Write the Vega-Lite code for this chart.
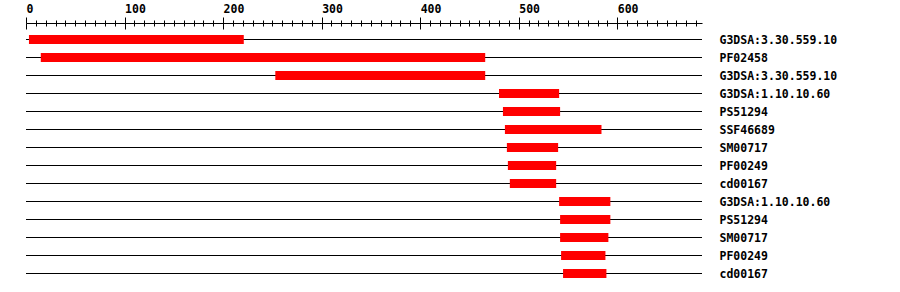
{
  "$schema": "https://vega.github.io/schema/vega-lite/v6.json",
  "autosize": "none",
  "width": 676,
  "height": 252,
  "padding": {"left": 26, "top": 30, "right": 198, "bottom": 10},
  "background": "white",
  "config": {"view": {"stroke": null}},
  "data": {"values": [
    {"key": "01|G3DSA:3.30.559.10", "start": 3, "end": 221},
    {"key": "02|PF02458", "start": 15, "end": 466},
    {"key": "03|G3DSA:3.30.559.10", "start": 253, "end": 466},
    {"key": "04|G3DSA:1.10.10.60", "start": 480, "end": 541},
    {"key": "05|PS51294", "start": 484, "end": 542},
    {"key": "06|SSF46689", "start": 486, "end": 584},
    {"key": "07|SM00717", "start": 488, "end": 540},
    {"key": "08|PF00249", "start": 489, "end": 538},
    {"key": "09|cd00167", "start": 491, "end": 538},
    {"key": "10|G3DSA:1.10.10.60", "start": 541, "end": 593},
    {"key": "11|PS51294", "start": 542, "end": 593},
    {"key": "12|SM00717", "start": 542, "end": 591},
    {"key": "13|PF00249", "start": 543, "end": 588},
    {"key": "14|cd00167", "start": 545, "end": 589}
  ]},
  "resolve": {"axis": {"x": "independent"}},
  "layer": [
    {
      "mark": {"type": "rule", "color": "black", "strokeWidth": 1, "yOffset": 0.5},
      "encoding": {
        "y": {
          "field": "key", "type": "nominal", "sort": null,
          "scale": {"type": "band", "paddingInner": 0, "paddingOuter": 0},
          "axis": {
            "orient": "right", "title": null, "domain": false, "ticks": false, "tickSize": 0,
            "labelPadding": 17, "labelBaseline": "alphabetic", "labelOffset": 5,
            "labelFont": "DejaVu Sans Mono", "labelFontWeight": "bold", "labelFontSize": 11.5,
            "labelColor": "black", "labelAlign": "left", "labelBound": false, "labelFlush": false,
            "labelExpr": "split(datum.label, '|')[1]"
          }
        }
      }
    },
    {
      "mark": {"type": "bar", "color": "#ff0000", "height": 9, "yOffset": 0.5},
      "encoding": {
        "x": {
          "field": "start", "type": "quantitative",
          "scale": {"domain": [0, 686], "nice": false, "zero": false},
          "axis": {
            "orient": "top", "title": null, "offset": 7,
            "values": [0,10,20,30,40,50,60,70,80,90,100,110,120,130,140,150,160,170,180,190,200,210,220,230,240,250,260,270,280,290,300,310,320,330,340,350,360,370,380,390,400,410,420,430,440,450,460,470,480,490,500,510,520,530,540,550,560,570,580,590,600,610,620,630,640,650,660,670,680],
            "tickSize": {"condition": {"test": "datum.value % 100 !== 0", "value": 3}, "value": 6},
            "tickColor": "black", "domainColor": "black", "grid": false,
            "labelExpr": "datum.value % 100 === 0 ? datum.label : ''",
            "labelAlign": "left", "labelBaseline": "alphabetic", "labelPadding": 5,
            "labelFont": "DejaVu Sans Mono", "labelFontWeight": "bold", "labelFontSize": 11.5,
            "labelColor": "black", "labelFlush": false, "labelOverlap": false, "labelBound": false
          }
        },
        "x2": {"field": "end"},
        "y": {"field": "key", "type": "nominal", "sort": null}
      }
    },
    {
      "mark": {"type": "rule", "opacity": 0},
      "encoding": {
        "x": {
          "field": "start", "type": "quantitative",
          "axis": {
            "orient": "bottom", "title": null, "offset": -259, "domain": false, "labels": false,
            "values": [0,10,20,30,40,50,60,70,80,90,100,110,120,130,140,150,160,170,180,190,200,210,220,230,240,250,260,270,280,290,300,310,320,330,340,350,360,370,380,390,400,410,420,430,440,450,460,470,480,490,500,510,520,530,540,550,560,570,580,590,600,610,620,630,640,650,660,670,680],
            "tickSize": {"condition": {"test": "datum.value % 100 !== 0", "value": 3}, "value": 6},
            "tickColor": "black", "grid": false
          }
        },
        "y": {"field": "key", "type": "nominal", "sort": null}
      }
    }
  ]
}
